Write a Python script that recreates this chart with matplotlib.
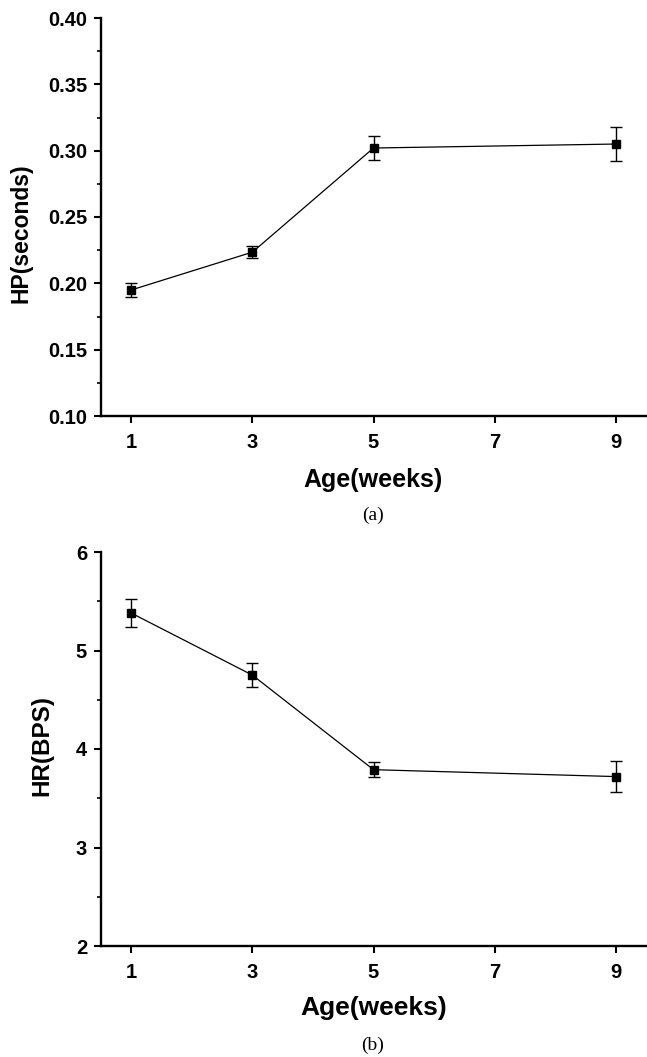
import matplotlib
matplotlib.use("Agg")
import matplotlib.pyplot as plt
from matplotlib.ticker import MultipleLocator

plt.rcParams['font.family'] = ['Liberation Sans', 'DejaVu Sans']

weeks = [1, 3, 5, 9]
hp_mean = [0.195, 0.2235, 0.302, 0.305]
hp_err = [0.005, 0.0045, 0.0093, 0.013]
hr_mean = [5.38, 4.75, 3.79, 3.72]
hr_err = [0.14, 0.12, 0.075, 0.16]
xticks = [1, 3, 5, 7, 9]

W, H = 647, 1057
fig = plt.figure(figsize=(W / 100, H / 100), dpi=100)

def px_axes(x0, y0, x1, y1):
    return fig.add_axes([x0 / W, 1 - y1 / H, (x1 - x0) / W, (y1 - y0) / H])

ax1 = px_axes(101, 18, 646, 416)
ax2 = px_axes(101, 552, 646, 946)

def style(ax, ylim, major, minor, fmt):
    ax.set_xlim(0.5, 9.5)
    ax.set_ylim(*ylim)
    ax.set_xticks(xticks)
    ax.yaxis.set_major_locator(MultipleLocator(major))
    ax.yaxis.set_minor_locator(MultipleLocator(minor))
    ax.yaxis.set_major_formatter(fmt)
    for s in ['top', 'right']:
        ax.spines[s].set_visible(False)
    for s in ['left', 'bottom']:
        ax.spines[s].set_linewidth(1.7)
    ax.tick_params(axis='both', which='major', direction='out', length=5, width=1.5,
                   labelsize=14.5, pad=5)
    ax.tick_params(axis='x', which='major', pad=7)
    ax.tick_params(axis='y', which='minor', direction='out', length=3, width=1.2)
    for lab in ax.get_xticklabels() + ax.get_yticklabels():
        lab.set_fontweight('bold')

ax1.errorbar(weeks, hp_mean, yerr=hp_err, color='black', lw=0.9, marker='s',
             markersize=6, capsize=4, elinewidth=1.0, capthick=1.0)
style(ax1, (0.10, 0.40), 0.05, 0.025, '{x:.2f}')
ax1.set_xlabel('Age(weeks)', fontsize=18, fontweight='bold', labelpad=12)
ax1.set_ylabel('HP(seconds)', fontsize=16.5, fontweight='bold')
ax1.yaxis.set_label_coords(-0.125, 0.46)
fig.text(373 / W, 1 - 515 / H, '(a)', ha='center', va='center', fontsize=14,
         family=['Liberation Serif', 'DejaVu Serif'])

ax2.errorbar(weeks, hr_mean, yerr=hr_err, color='black', lw=0.9, marker='s',
             markersize=6, capsize=4, elinewidth=1.0, capthick=1.0)
style(ax2, (2, 6), 1, 0.5, '{x:.0f}')
ax2.set_xlabel('Age(weeks)', fontsize=19, fontweight='bold', labelpad=10)
ax2.set_ylabel('HR(BPS)', fontsize=17.5, fontweight='bold')
ax2.yaxis.set_label_coords(-0.088, 0.51)
fig.text(373 / W, 1 - 1045 / H, '(b)', ha='center', va='center', fontsize=14,
         family=['Liberation Serif', 'DejaVu Serif'])

fig.savefig('out.png', dpi=100)
